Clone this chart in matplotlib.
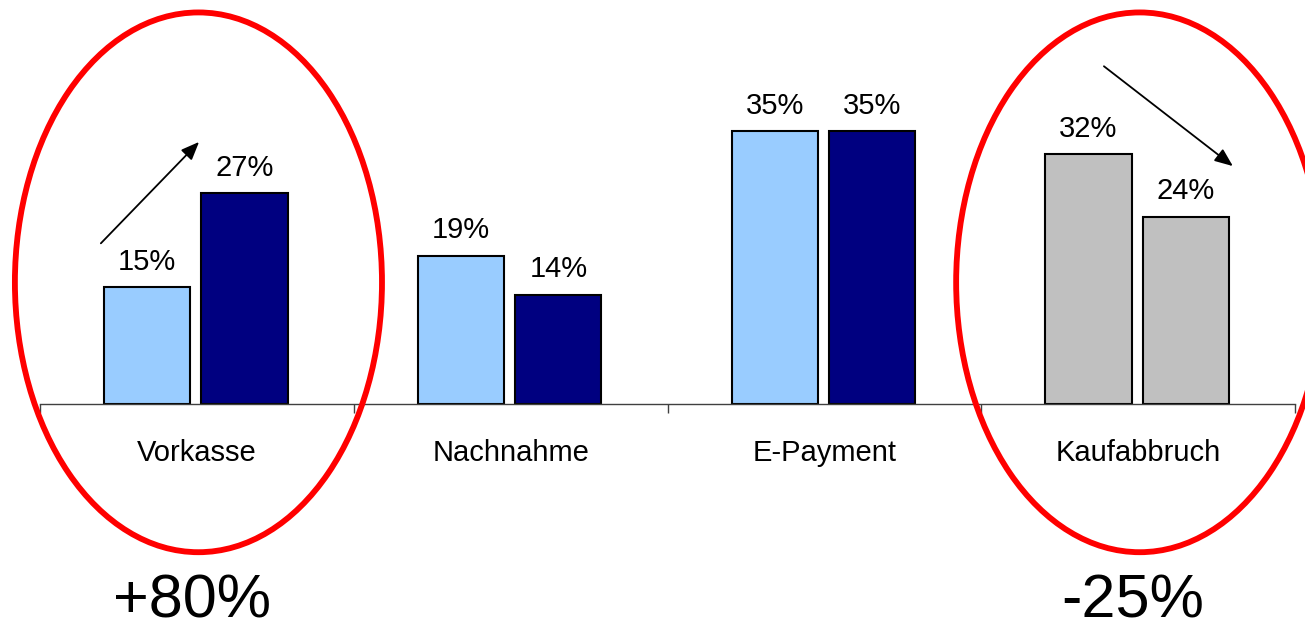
import matplotlib
matplotlib.use("Agg")
import matplotlib.pyplot as plt
from matplotlib.patches import Ellipse
import numpy as np

plt.rcParams['font.family'] = ['Liberation Sans', 'DejaVu Sans']

categories = ["Vorkasse", "Nachnahme", "E-Payment", "Kaufabbruch"]
before = [15, 19, 35, 32]
after = [27, 14, 35, 24]
before_colors = ["#99CCFF", "#99CCFF", "#99CCFF", "#C0C0C0"]
after_colors = ["#000080", "#000080", "#000080", "#C0C0C0"]
changes = ["+80%", "-25%"]

W, H = 1305, 632
fig = plt.figure(figsize=(W / 100, H / 100), dpi=100)
ax = fig.add_axes([40 / W, (H - 404) / H, 1255 / W, 312 / H])

x = np.arange(len(categories))
bw = 0.275
off = 0.155
b1 = ax.bar(x - off - 0.003, before, bw, color=before_colors, edgecolor="black", linewidth=1.5, zorder=2)
b2 = ax.bar(x + off - 0.003, after, bw, color=after_colors, edgecolor="black", linewidth=1.5, zorder=2)

for bars, vals in ((b1, before), (b2, after)):
    for rect, v in zip(bars, vals):
        ax.annotate(f"{v}%", (rect.get_x() + rect.get_width() / 2, v),
                    xytext=(0, 12.5), textcoords="offset points",
                    ha="center", va="baseline", fontsize=21)

ax.set_xlim(-0.5, len(categories) - 0.5)
ax.set_ylim(0, 40)
for s in ("top", "right", "left"):
    ax.spines[s].set_visible(False)
ax.spines["bottom"].set_color("#404040")
ax.spines["bottom"].set_linewidth(1.0)
ax.set_yticks([])
ax.set_xticks(x)
ax.set_xticklabels(categories, fontsize=21)
ax.tick_params(axis="x", which="major", length=0, pad=25.5)
ax.set_xticks(np.arange(-0.5, len(categories)), minor=True)
ax.tick_params(axis="x", which="minor", length=6.5, width=1.0, color="#404040", direction="out")

# highlight rings around the first and last category
for cx in (0, 3):
    ax.add_patch(Ellipse((cx + 0.005, 15.6), 1.17, 69.2, fill=False,
                         edgecolor="#FF0000", linewidth=4.2, clip_on=False, zorder=3))

# trend arrows
arrow = dict(arrowstyle="-|>,head_length=1.1,head_width=0.45", color="black", lw=1.3,
             shrinkA=0, shrinkB=0)
ax.annotate("", xy=(0.007, 33.6), xytext=(-0.306, 20.6), arrowprops=arrow, annotation_clip=False)
ax.annotate("", xy=(3.302, 30.5), xytext=(2.891, 43.3), arrowprops=arrow, annotation_clip=False)

fig.text(192 / W, 1.5 / H, changes[0], ha="center", va="bottom", fontsize=44)
fig.text(1133 / W, 1.5 / H, changes[1], ha="center", va="bottom", fontsize=44)

fig.savefig("out.png", dpi=100)
